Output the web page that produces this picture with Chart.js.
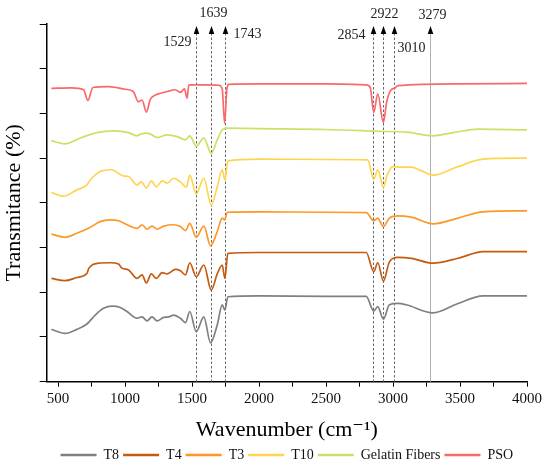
<!DOCTYPE html>
<html>
<head>
<meta charset="utf-8">
<script src="https://cdn.jsdelivr.net/npm/chart.js@4.4.1/dist/chart.umd.min.js"></script>
<style>
  html, body { margin: 0; padding: 0; background: #fff; }
  #wrap { width: 550px; height: 467px; }
</style>
</head>
<body>
<div id="wrap"><canvas id="myChart"></canvas></div>
<script>
// FTIR spectra, values (stacked, arbitrary units)
const seriesNames = ['T8', 'T4', 'T3', 'T10', 'Gelatin Fibers', 'PSO'];
const seriesColors = ['#808080', '#c55a11', '#fd9827', '#ffd44f', '#c9e265', '#f8696b'];

const t8Wave = [450, 552, 640, 715, 777, 839, 902, 964, 1014, 1089, 1127, 1164, 1201, 1239, 1289, 1326, 1363, 1413, 1451, 1483, 1531, 1588, 1638, 1688, 1725, 1745, 1767, 2000, 2500, 2800, 2856, 2886, 2928, 2973, 3036, 3098, 3298, 3485, 3672, 4000];
const t8T = [1.17, 1.08, 1.17, 1.29, 1.49, 1.64, 1.69, 1.66, 1.57, 1.42, 1.45, 1.36, 1.45, 1.36, 1.44, 1.45, 1.49, 1.42, 1.32, 1.57, 1.12, 1.45, 0.87, 1.27, 1.72, 1.60, 1.90, 1.92, 1.91, 1.91, 1.58, 1.68, 1.40, 1.72, 1.75, 1.72, 1.54, 1.75, 1.92, 1.92];

const t4Wave = [450, 552, 640, 715, 730, 802, 889, 951, 977, 1026, 1089, 1127, 1159, 1196, 1234, 1276, 1314, 1376, 1413, 1451, 1483, 1531, 1588, 1643, 1688, 1725, 1745, 1767, 2000, 2500, 2800, 2856, 2886, 2928, 2973, 3036, 3136, 3298, 3485, 3672, 4000];
const t4T = [2.31, 2.26, 2.33, 2.42, 2.54, 2.65, 2.66, 2.63, 2.54, 2.50, 2.31, 2.39, 2.21, 2.41, 2.31, 2.44, 2.41, 2.51, 2.48, 2.39, 2.66, 2.35, 2.61, 2.05, 2.41, 2.61, 2.31, 2.87, 2.89, 2.89, 2.89, 2.46, 2.66, 2.25, 2.68, 2.78, 2.76, 2.65, 2.76, 2.91, 2.91];

const t3Wave = [450, 552, 640, 727, 814, 889, 951, 1014, 1089, 1127, 1164, 1201, 1239, 1289, 1363, 1413, 1451, 1483, 1531, 1588, 1638, 1688, 1725, 1743, 1763, 2000, 2500, 2800, 2856, 2886, 2928, 2973, 3036, 3136, 3298, 3485, 3672, 4000];
const t3T = [3.30, 3.23, 3.32, 3.43, 3.58, 3.62, 3.60, 3.51, 3.43, 3.51, 3.41, 3.48, 3.41, 3.48, 3.51, 3.47, 3.38, 3.54, 3.23, 3.48, 3.04, 3.36, 3.66, 3.62, 3.79, 3.80, 3.79, 3.78, 3.60, 3.66, 3.47, 3.66, 3.71, 3.68, 3.53, 3.66, 3.80, 3.82];

const t10Wave = [450, 540, 640, 715, 740, 814, 902, 951, 989, 1026, 1089, 1121, 1159, 1196, 1234, 1276, 1314, 1363, 1413, 1458, 1483, 1531, 1588, 1643, 1688, 1725, 1745, 1767, 2000, 2500, 2811, 2856, 2886, 2928, 2956, 2998, 3061, 3136, 3210, 3298, 3485, 3672, 4000];
const t10T = [4.23, 4.15, 4.29, 4.40, 4.51, 4.70, 4.74, 4.66, 4.60, 4.59, 4.40, 4.47, 4.33, 4.49, 4.36, 4.49, 4.44, 4.55, 4.47, 4.35, 4.62, 4.20, 4.55, 3.95, 4.36, 4.74, 4.51, 4.94, 4.98, 4.97, 4.96, 4.53, 4.74, 4.35, 4.62, 4.81, 4.80, 4.80, 4.72, 4.62, 4.81, 4.98, 5.00];

const gelWave = [450, 552, 665, 790, 914, 1026, 1089, 1120, 1164, 1200, 1239, 1314, 1389, 1451, 1483, 1531, 1588, 1643, 1688, 1725, 1763, 2000, 2500, 2900, 3100, 3298, 3450, 3635, 4000];
const gelT = [5.39, 5.32, 5.45, 5.57, 5.61, 5.57, 5.50, 5.54, 5.56, 5.52, 5.46, 5.52, 5.48, 5.41, 5.50, 5.27, 5.45, 5.11, 5.41, 5.63, 5.67, 5.66, 5.64, 5.60, 5.58, 5.50, 5.57, 5.65, 5.63];

const psoWave = [450, 600, 690, 722, 760, 880, 1000, 1061, 1099, 1127, 1159, 1189, 1226, 1264, 1314, 1376, 1413, 1443, 1463, 1476, 1600, 1700, 1725, 1743, 1760, 1775, 2000, 2500, 2799, 2830, 2856, 2886, 2928, 2953, 2986, 3010, 3036, 3500, 4000];
const psoT = [6.56, 6.57, 6.53, 6.29, 6.58, 6.60, 6.54, 6.49, 6.26, 6.30, 6.03, 6.32, 6.41, 6.45, 6.49, 6.53, 6.47, 6.55, 6.34, 6.64, 6.64, 6.63, 6.55, 5.78, 6.55, 6.65, 6.66, 6.66, 6.64, 6.58, 6.02, 6.44, 5.80, 6.26, 6.53, 6.56, 6.62, 6.66, 6.67];

// marked bands
const peakMarks = [1529, 1639, 1743, 2854, 2922, 3010, 3279];

const xTicks = [500, 750, 1000, 1250, 1500, 1750, 2000, 2250, 2500, 2750, 3000, 3250, 3500, 3750, 4000];

const waves = [t8Wave, t4Wave, t3Wave, t10Wave, gelWave, psoWave];
const trans = [t8T, t4T, t3T, t10T, gelT, psoT];

const serif = "'Liberation Serif', 'DejaVu Serif', serif";

// label placement for the marks: [align, x gap, y offset from chart top]
const markLayout = {
  1529: ['right', -5, 18],
  1639: ['center', 2, -11],
  1743: ['left', 8, 10],
  2854: ['right', -8, 11],
  2922: ['center', 1, -10],
  3010: ['left', 3, 24],
  3279: ['center', 2, -9]
};

const peakPlugin = {
  id: 'peaks',
  afterLayout(chart) {
    // centre the legend under the plot area and drop it a bit
    const lg = chart.legend;
    if (!lg) return;
    lg.left = chart.chartArea.left;
    lg.right = chart.chartArea.right;
    lg.width = lg.right - lg.left;
    lg.top += 5;
    lg.bottom += 5;
  },
  beforeDatasetsDraw(chart) {
    const {ctx, chartArea, scales} = chart;
    ctx.save();
    peakMarks.forEach(v => {
      const x = Math.round(scales.x.getPixelForValue(v)) + 0.5;
      ctx.beginPath();
      if (v === 3279) {
        ctx.setLineDash([]);
        ctx.strokeStyle = '#b0b0b0';
      } else {
        ctx.setLineDash([2.5, 2]);
        ctx.strokeStyle = '#666';
      }
      ctx.lineWidth = 1;
      ctx.moveTo(x, chartArea.top + 9);
      ctx.lineTo(x, chartArea.bottom);
      ctx.stroke();
    });
    ctx.restore();
  },
  afterDatasetsDraw(chart) {
    const {ctx, chartArea, scales} = chart;
    ctx.save();
    ctx.font = '14px ' + serif;
    ctx.textBaseline = 'middle';
    peakMarks.forEach(v => {
      const x = Math.round(scales.x.getPixelForValue(v)) + 0.5;
      ctx.fillStyle = '#000';
      ctx.beginPath();
      ctx.moveTo(x, chartArea.top + 2);
      ctx.lineTo(x - 2.8, chartArea.top + 10);
      ctx.lineTo(x + 2.8, chartArea.top + 10);
      ctx.closePath();
      ctx.fill();
      const lay = markLayout[v];
      ctx.fillStyle = '#222';
      ctx.textAlign = lay[0];
      ctx.fillText(String(v), x + lay[1], chartArea.top + lay[2]);
    });
    ctx.restore();
  }
};

const datasets = seriesNames.map((name, i) => ({
  label: name,
  data: waves[i].map((w, j) => ({x: w, y: trans[i][j]})),
  borderColor: seriesColors[i],
  backgroundColor: seriesColors[i],
  borderWidth: 1.7,
  pointRadius: 0,
  cubicInterpolationMode: 'monotone',
  fill: false
}));

const config = {
  type: 'line',
  data: { datasets: datasets },
  options: {
    responsive: true,
    maintainAspectRatio: false,
    animation: false,
    layout: { padding: { left: 0, right: 23, top: 24, bottom: 0 } },
    plugins: {
      legend: {
        position: 'bottom',
        labels: {
          boxWidth: 36,
          boxHeight: 2.5,
          padding: 4,
          color: '#111',
          font: { family: serif, size: 14 },
          generateLabels(chart) {
            const items = Chart.defaults.plugins.legend.labels.generateLabels(chart);
            items.forEach(it => { it.lineWidth = 0; it.fillStyle = it.strokeStyle; });
            return items;
          }
        }
      },
      tooltip: { enabled: false }
    },
    scales: {
      x: {
        type: 'linear',
        min: 415,
        max: 4000,
        afterBuildTicks(scale) { scale.ticks = xTicks.map(v => ({value: v})); },
        afterFit(scale) { scale.height = 57.3; },
        ticks: {
          color: '#111',
          font: { family: serif, size: 15 },
          padding: 3,
          maxRotation: 0,
          autoSkip: false,
          callback: v => (v % 500 === 0 ? String(v) : '')
        },
        grid: { drawOnChartArea: false, drawTicks: true, tickLength: 5, color: '#000', lineWidth: 1 },
        border: { display: true, color: '#000', width: 1.5 },
        title: {
          display: true,
          text: 'Wavenumber (cm\u207B\u00B9)',
          color: '#000',
          font: { family: serif, size: 22 },
          padding: { top: 0, bottom: -4 }
        }
      },
      y: {
        min: 0,
        max: 8,
        afterFit(scale) { scale.width = 46.7; },
        ticks: { display: false, stepSize: 1 },
        grid: { drawOnChartArea: false, drawTicks: true, tickLength: 7, color: '#000', lineWidth: 1 },
        border: { display: true, color: '#000', width: 1.5 },
        title: {
          display: true,
          text: 'Transmitance (%)',
          color: '#000',
          font: { family: serif, size: 22 },
          padding: { top: 1, bottom: 0 }
        }
      }
    }
  },
  plugins: [peakPlugin]
};

const myChart = new Chart(document.getElementById('myChart'), config);
</script>
</body>
</html>
